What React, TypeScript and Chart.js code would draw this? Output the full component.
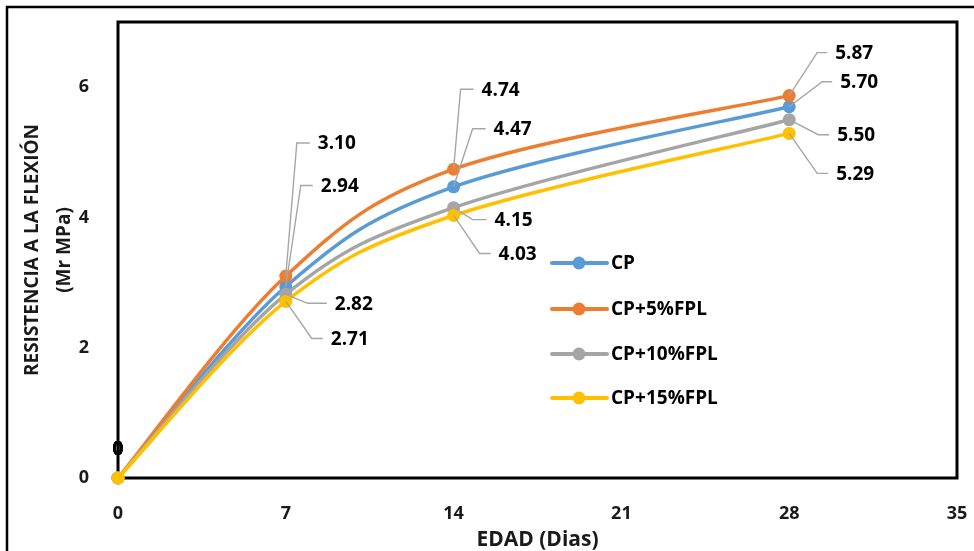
import React, { useEffect, useRef } from "react";
import { Chart, registerables } from "chart.js";

Chart.register(...registerables);

// ---- data ----
const ages = [0, 7, 14, 28];
const seriesNames = ["CP", "CP+5%FPL", "CP+10%FPL", "CP+15%FPL"];
const cp = [0, 2.94, 4.47, 5.7];
const cp5 = [0, 3.1, 4.74, 5.87];
const cp10 = [0, 2.82, 4.15, 5.5];
const cp15 = [0, 2.71, 4.03, 5.29];
const xTicks = [0, 7, 14, 21, 28, 35];
const yTicks = [0, 2, 4, 6];
const xTitle = "EDAD (Dias)";
const yTitle = ["RESISTENCIA A LA FLEXIÓN", "(Mr MPa)"];

// ---- styling ----
const seriesValues = [cp, cp5, cp10, cp15];
const colors = ["#5B9BD5", "#ED7D31", "#A5A5A5", "#FFC000"];
const drawOrder = [3, 2, 1, 0];
const FONT = "'Open Sans', 'DejaVu Sans', sans-serif";
const TEXT = "#1a1a1a";

// leader line geometry for each label: [elbow dx, elbow dy, horizontal length] (pixels), null = no leader
const leaders: (number[] | null)[][] = [
  [null, [15, -101, 12], [19, -58, 13], [33, -25, 10]],
  [null, [11, -133, 13], [7, -80, 13], [28, -43, 10]],
  [null, [22, 9, 19], [19, 12, 14], [29, 15, 11]],
  [null, [26, 37, 11], [26, 38, 11], [28, 40, 11]],
];

const zeroPadding = (s: any) => {
  s.paddingTop = 0;
  s.paddingBottom = 0;
  s.paddingLeft = 0;
  s.paddingRight = 0;
};

// Catmull-Rom style smoothing (like spreadsheet "smoothed line")
const smoothPlugin = {
  id: "smooth",
  beforeDatasetDraw(chart: any, args: any) {
    const meta = args.meta;
    const pts = meta.data;
    const n = pts.length;
    for (let i = 0; i < n; i++) {
      const p = pts[i];
      const prev = pts[Math.max(i - 1, 0)];
      const next = pts[Math.min(i + 1, n - 1)];
      const tx = (next.x - prev.x) / 6;
      const ty = (next.y - prev.y) / 6;
      p.cp1x = p.x - tx;
      p.cp1y = p.y - ty;
      p.cp2x = p.x + tx;
      p.cp2y = p.y + ty;
    }
    if (meta.dataset) {
      meta.dataset._pointsUpdated = true;
      meta.dataset._path = undefined;
    }
  },
};

const framePlugin = {
  id: "frame",
  beforeDatasetsDraw(chart: any) {
    const { ctx, chartArea: a } = chart;
    ctx.save();
    ctx.strokeStyle = "#000";
    ctx.lineWidth = 2.5;
    ctx.beginPath();
    ctx.moveTo(7, 551);
    ctx.lineTo(7, 7);
    ctx.lineTo(974, 7);
    ctx.stroke();
    ctx.lineWidth = 3;
    ctx.strokeRect(a.left, a.top, a.right - a.left, a.bottom - a.top);
    ctx.restore();
  },
};

const labelPlugin = {
  id: "labels",
  afterDatasetsDraw(chart: any) {
    const { ctx } = chart;
    ctx.save();
    ctx.font = `bold 19px ${FONT}`;
    ctx.fillStyle = "#000";
    ctx.textBaseline = "middle";
    seriesValues.forEach((vals, si) => {
      const meta = chart.getDatasetMeta(si);
      vals.forEach((v, pi) => {
        const pt = meta.data[pi];
        const txt = v === 0 ? "0" : v.toFixed(2);
        const ld = leaders[si][pi];
        if (!ld) {
          ctx.textAlign = "center";
          ctx.fillText(txt, pt.x, pt.y - 28);
          return;
        }
        const ex = pt.x + ld[0];
        const ey = pt.y + ld[1];
        ctx.strokeStyle = "#A6A6A6";
        ctx.lineWidth = 1.4;
        ctx.beginPath();
        ctx.moveTo(pt.x, pt.y);
        ctx.lineTo(ex, ey);
        ctx.lineTo(ex + ld[2], ey);
        ctx.stroke();
        ctx.textAlign = "left";
        ctx.fillText(txt, ex + ld[2] + 8, ey + 1);
      });
    });
    ctx.restore();
  },
};

const legendPlugin = {
  id: "customLegend",
  afterDraw(chart: any) {
    const { ctx } = chart;
    const x0 = 552;
    const rows = [263, 309, 354, 398];
    ctx.save();
    ctx.font = `bold 19px ${FONT}`;
    ctx.textBaseline = "middle";
    ctx.textAlign = "left";
    seriesNames.forEach((name, i) => {
      const y = rows[i];
      ctx.strokeStyle = colors[i];
      ctx.fillStyle = colors[i];
      ctx.lineWidth = 4;
      ctx.lineCap = "round";
      ctx.beginPath();
      ctx.moveTo(x0, y);
      ctx.lineTo(x0 + 55, y);
      ctx.stroke();
      ctx.beginPath();
      ctx.arc(x0 + 27, y, 6.5, 0, Math.PI * 2);
      ctx.fill();
      ctx.fillStyle = "#000";
      ctx.fillText(name, x0 + 59, y + 1);
    });
    ctx.restore();
  },
};

export default function App() {
  const canvasRef = useRef<HTMLCanvasElement>(null);

  useEffect(() => {
    const chart = new Chart(canvasRef.current as HTMLCanvasElement, {
      type: "line",
      data: {
        datasets: seriesValues.map((vals, i) => ({
          label: seriesNames[i],
          data: ages.map((a, j) => ({ x: a, y: vals[j] })),
          borderColor: colors[i],
          backgroundColor: colors[i],
          pointBackgroundColor: colors[i],
          pointBorderColor: colors[i],
          pointRadius: 6.5,
          pointBorderWidth: 0,
          borderWidth: 3.5,
          tension: 0.4,
          capBezierPoints: false,
          fill: false,
          clip: false,
          order: drawOrder[i],
        })),
      } as any,
      options: {
        responsive: false,
        animation: false,
        layout: { padding: { left: 0, top: 22, right: 17, bottom: 0 } },
        plugins: {
          legend: { display: false },
          tooltip: { enabled: false },
        },
        scales: {
          x: {
            type: "linear",
            min: 0,
            max: 35,
            afterBuildTicks: (s: any) => {
              s.ticks = xTicks.map((v) => ({ value: v }));
            },
            afterFit: (s: any) => {
              s.height = 73;
              zeroPadding(s);
            },
            grid: { display: false },
            border: { display: false },
            ticks: {
              padding: 17,
              maxRotation: 0,
              color: TEXT,
              font: { family: FONT, size: 18, weight: "bold" },
            },
            title: {
              display: true,
              text: xTitle,
              color: TEXT,
              padding: { top: 0, bottom: 0 },
              font: { family: FONT, size: 21, weight: "bold", lineHeight: 1.05 },
            },
          },
          y: {
            type: "linear",
            min: 0,
            max: 7,
            afterBuildTicks: (s: any) => {
              s.ticks = yTicks.map((v) => ({ value: v }));
            },
            afterFit: (s: any) => {
              s.width = 118;
              zeroPadding(s);
            },
            grid: { display: false },
            border: { display: false },
            ticks: {
              padding: 21,
              color: TEXT,
              font: { family: FONT, size: 18, weight: "bold" },
            },
            title: {
              display: true,
              text: yTitle,
              color: TEXT,
              padding: { top: 16, bottom: 0 },
              font: { family: FONT, size: 19, weight: "bold", lineHeight: 1.72 },
            },
          },
        },
      } as any,
      plugins: [smoothPlugin, framePlugin, labelPlugin, legendPlugin],
    });
    return () => chart.destroy();
  }, []);

  return (
    <div style={{ position: "fixed", left: 0, top: 0, width: 974, height: 551, background: "#fff" }}>
      <canvas ref={canvasRef} width={974} height={551} />
    </div>
  );
}
